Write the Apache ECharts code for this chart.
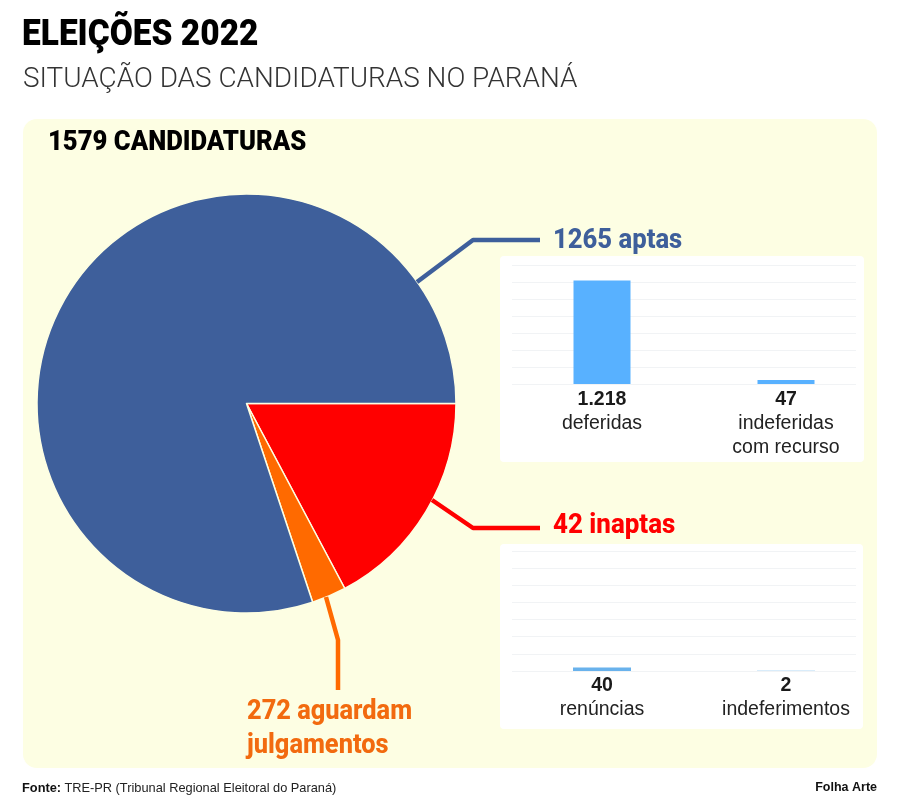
<!DOCTYPE html>
<html><head><meta charset="utf-8">
<style>html,body{margin:0;padding:0;background:#fff}#c{width:898px;height:799px}</style>
<script src="https://cdn.jsdelivr.net/npm/echarts@6/dist/echarts.min.js"></script>
</head><body><div id="c"></div>
<script>
const title = 'ELEIÇÕES 2022';
const subtitle = 'SITUAÇÃO DAS CANDIDATURAS NO PARANÁ';
const totalLabel = '1579 CANDIDATURAS';
const pieNames = ['inaptas', 'aguardam julgamentos', 'aptas'];
const pieValues = [272, 42, 1265];
const pieColors = ['#ff0000', '#ff6a00', '#3e5f9b'];
const aptasCats = ['deferidas', 'indeferidas\ncom recurso'];
const aptasValues = [1218, 47];
const aptasLabels = ['1.218', '47'];
const inaptasCats = ['renúncias', 'indeferimentos'];
const inaptasValues = [40, 2];
const inaptasLabels = ['40', '2'];

const chart = echarts.init(document.getElementById('c'), null, {renderer: 'canvas'});
const head = 'Roboto, "Liberation Sans", sans-serif';
function txt(x, y, text, size, weight, fill, sx, family, align) {
  return {type: 'text', x, y, scaleX: sx || 1, z: 5,
    style: {text, fill, font: `${weight} ${size}px ${family || head}`, align: align || 'left', verticalAlign: 'middle'}};
}
function poly(points, stroke) {
  return {type: 'polyline', z: 5, shape: {points}, style: {stroke, lineWidth: 4.5, fill: null, lineJoin: 'round'}};
}
function card(x, y, width, height, r, fill) {
  return {type: 'rect', z: -10, shape: {x, y, width, height, r}, style: {fill}};
}
function labelFmt(labels, cats) {
  return (v) => {
    const i = cats.indexOf(v);
    return `{b|${labels[i]}}\n{n|${v.split('\n').join('}\n{n|')}}`;
  };
}
const sansBody = '"Liberation Sans", Arial, sans-serif';
const rich = {
  b: {fontFamily: sansBody, fontSize: 19.5, fontWeight: 'bold', color: '#1a1a1a', lineHeight: 24, align: 'center'},
  n: {fontFamily: sansBody, fontSize: 19.5, color: '#222', lineHeight: 24, align: 'center'}
};
const splitStyle = {lineStyle: {color: '#f1f3f5', width: 1}};
const yHidden = {type: 'value', min: 0, max: 1400, interval: 200, axisLine: {show: false}, axisTick: {show: false}, axisLabel: {show: false}};

chart.setOption({
  animation: false,
  backgroundColor: '#fff',
  graphic: {elements: [
    card(23, 119, 854, 649, 14, '#fdfee3'),
    card(500, 256, 364, 206, 4, '#ffffff'),
    card(500, 544, 363, 185, 4, '#ffffff'),
    txt(22, 36, title, 36, 900, '#000', 0.93),
    txt(23, 80, subtitle, 27.9, 300, '#333', 1),
    txt(48, 143, totalLabel, 27, 900, '#000', 0.95),
    poly([[417, 282], [473, 240], [540, 240]], pieColors[2]),
    poly([[432, 500], [473, 528], [540, 528]], pieColors[0]),
    poly([[326, 597], [338, 640], [338, 690]], pieColors[1]),
    txt(553, 241, '1265 aptas', 27, 800, pieColors[2], 0.95),
    txt(553, 526, '42 inaptas', 27, 800, pieColors[0], 0.96),
    txt(247, 712, '272 aguardam', 27, 800, '#f26a0f', 0.94),
    txt(247, 746, 'julgamentos', 27, 800, '#f26a0f', 0.94),
    {type: 'text', x: 22, y: 788, z: 5, style: {
      text: '{a|Fonte:} {c|TRE-PR (Tribunal Regional Eleitoral do Paraná)}', verticalAlign: 'middle',
      rich: {a: {font: 'bold 12.8px "Liberation Sans", sans-serif', fill: '#111'}, c: {font: '12.8px "Liberation Sans", sans-serif', fill: '#222'}}}},
    txt(877, 788, 'Folha Arte', 12.5, 'bold', '#111', 1, '"Liberation Sans", sans-serif', 'right')
  ]},
  grid: [
    {left: 512, top: 265, width: 344, height: 119},
    {left: 510, top: 265, width: 368, height: 119},
    {left: 512, top: 551, width: 344, height: 120},
    {left: 510, top: 551, width: 368, height: 120}
  ],
  xAxis: [
    {gridIndex: 0, type: 'value', min: 0, max: 1, show: false},
    {gridIndex: 1, type: 'category', data: aptasCats, axisLine: {show: false}, axisTick: {show: false},
      axisLabel: {interval: 0, margin: 4, formatter: labelFmt(aptasLabels, aptasCats), rich}},
    {gridIndex: 2, type: 'value', min: 0, max: 1, show: false},
    {gridIndex: 3, type: 'category', data: inaptasCats, axisLine: {show: false}, axisTick: {show: false},
      axisLabel: {interval: 0, margin: 3, formatter: labelFmt(inaptasLabels, inaptasCats), rich}}
  ],
  yAxis: [
    Object.assign({gridIndex: 0, splitLine: splitStyle}, yHidden),
    Object.assign({gridIndex: 1, splitLine: {show: false}}, yHidden),
    Object.assign({gridIndex: 2, splitLine: splitStyle}, yHidden),
    Object.assign({gridIndex: 3, splitLine: {show: false}}, yHidden)
  ],
  series: [
    {type: 'pie', center: [246.5, 403.5], radius: [0, 209.5], startAngle: 0, clockwise: true,
      label: {show: false}, labelLine: {show: false}, silent: true,
      itemStyle: {borderColor: '#fdfee3', borderWidth: 1.5},
      data: pieValues.map((value, i) => ({name: pieNames[i], value, itemStyle: {color: pieColors[i]}}))},
    {type: 'bar', xAxisIndex: 1, yAxisIndex: 1, data: aptasValues, barWidth: 57, itemStyle: {color: '#58b1ff'}},
    {type: 'bar', xAxisIndex: 3, yAxisIndex: 3, data: inaptasValues, barWidth: 58, itemStyle: {color: '#69b2ec'}}
  ]
});
</script></body></html>
